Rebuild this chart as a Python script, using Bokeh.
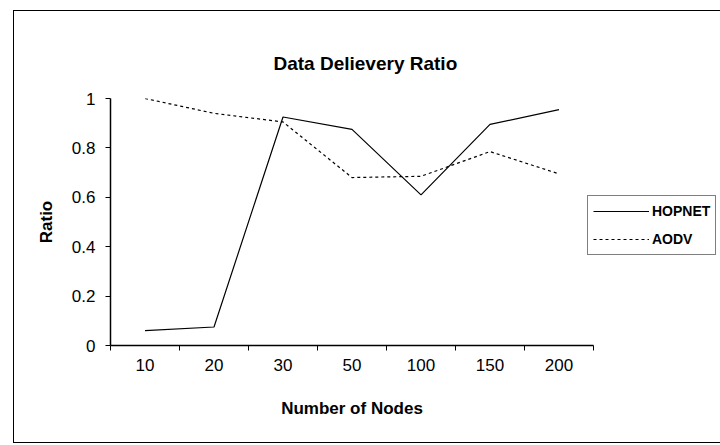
from bokeh.plotting import figure
from bokeh.models import FixedTicker, Range1d, Legend, LegendItem
from bokeh.embed import file_html
from bokeh.resources import INLINE

# ---- data ----
nodes = ["10", "20", "30", "50", "100", "150", "200"]
hopnet = [0.06, 0.075, 0.925, 0.875, 0.61, 0.895, 0.955]
aodv = [1.0, 0.94, 0.905, 0.68, 0.685, 0.785, 0.695]
y_ticks = [0, 0.2, 0.4, 0.6, 0.8, 1.0]
y_tick_labels = ["0", "0.2", "0.4", "0.6", "0.8", "1"]

xs = [i + 0.5 for i in range(len(nodes))]
bounds = list(range(len(nodes) + 1))

FONT = "Liberation Sans"

p = figure(
    output_backend="svg", toolbar_location=None,
    frame_width=483, frame_height=247,
    min_border_left=96, min_border_right=128,
    min_border_top=87, min_border_bottom=97,
    x_range=Range1d(0, len(nodes)), y_range=Range1d(0, 1),
    title="Data Delievery Ratio",
)
p.styles = {"border": "1px solid black", "margin-left": "13px", "margin-top": "10px"}
p.background_fill_color = "white"
p.border_fill_color = "white"
p.outline_line_color = None
p.xgrid.visible = False
p.ygrid.visible = False

p.title.align = "left"
p.title.offset = 163
p.title.text_font = FONT
p.title.text_font_size = "19px"
p.title.text_font_style = "bold"
p.title.text_color = "black"
p.title.standoff = 50

r1 = p.line(xs, hopnet, line_color="black", line_width=1.2)
r2 = p.line(xs, aodv, line_color="black", line_width=1.2, line_dash="3 3")

# x axis
xa = p.xaxis[0]
xa.ticker = FixedTicker(ticks=xs, minor_ticks=bounds)
xa.major_label_overrides = {x: n for x, n in zip(xs, nodes)}
xa.major_tick_out = 0
xa.major_tick_in = 0
xa.minor_tick_out = 5
xa.minor_tick_in = 0
xa.minor_tick_line_color = "black"
xa.major_label_standoff = 8
xa.axis_label = "Number of Nodes"
xa.axis_label_standoff = 25
xa.axis_line_width = 1.5

# y axis
ya = p.yaxis[0]
ya.ticker = FixedTicker(ticks=y_ticks, minor_ticks=[])
ya.major_label_overrides = {t: l for t, l in zip(y_ticks, y_tick_labels)}
ya.major_tick_out = 5
ya.major_tick_in = 0
ya.major_label_standoff = 10
ya.axis_label = "Ratio"
ya.axis_label_standoff = 13
ya.axis_line_width = 1.5

for ax in (xa, ya):
    ax.major_label_text_font = FONT
    ax.major_label_text_font_size = "17px"
    ax.major_label_text_color = "black"
    ax.axis_label_text_font = FONT
    ax.axis_label_text_font_size = "17px"
    ax.axis_label_text_font_style = "bold"
    ax.axis_label_text_color = "black"
    ax.axis_line_color = "black"
    ax.major_tick_line_color = "black"

legend = Legend(
    items=[LegendItem(label="HOPNET", renderers=[r1]),
           LegendItem(label="AODV", renderers=[r2])],
    location=(-6, 90),
    label_text_font=FONT, label_text_font_size="14px", label_text_font_style="bold",
    label_text_color="black",
    glyph_width=56, glyph_height=20, label_standoff=3, padding=5, spacing=8,
    border_line_color="black", border_line_width=1.5, margin=0,
    background_fill_alpha=1.0,
)
p.add_layout(legend, "right")

open("out.html", "w").write(file_html(p, INLINE))
